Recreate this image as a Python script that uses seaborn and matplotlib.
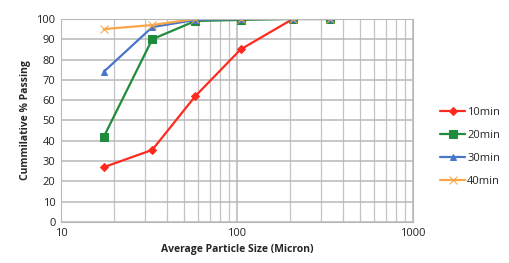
import numpy as np
import pandas as pd
import matplotlib
matplotlib.use("Agg")
import matplotlib.pyplot as plt
from matplotlib.ticker import LogLocator, FixedLocator, NullFormatter
import seaborn as sns

# particle sizes (micron) and cumulative % passing per grinding time
sizes = [17.5, 33, 58, 105, 208, 340]
p10 = [27, 35.5, 62, 85, 100, 100]
p20 = [42, 90, 99, 99.5, 100, 100]
p30 = [74, 96, 99.5, 100, 100, 100]
p40 = [95, 97, 100, 100, 100, 100]
series = ["10min", "20min", "30min", "40min"]

df = pd.DataFrame({
    "size": sizes * 4,
    "passing": p10 + p20 + p30 + p40,
    "time": np.repeat(series, len(sizes)),
})

sns.set_style("white")
plt.rcParams["font.family"] = ["Open Sans", "DejaVu Sans"]

colors = {"10min": "#ff2a1f", "20min": "#1f8c3b", "30min": "#4876c8", "40min": "#f7a548"}
markers = {"10min": "D", "20min": "s", "30min": "^", "40min": "x"}
sizes_mk = {"10min": 4, "20min": 6, "30min": 5, "40min": 6}

fig = plt.figure(figsize=(5.09, 2.63), dpi=100)
ax = fig.add_axes([0.12, 0.156, 0.691, 0.772])

for name in series:
    sub = df[df["time"] == name]
    sns.lineplot(data=sub, x="size", y="passing", ax=ax, color=colors[name],
                 marker=markers[name], markersize=sizes_mk[name], linewidth=1.6,
                 markeredgecolor=colors[name], label=name)

ax.set_xscale("log")
ax.set_xlim(10, 1000)
ax.set_ylim(0, 100)
ax.set_yticks(range(0, 101, 10))
ax.xaxis.set_major_locator(FixedLocator([10, 100, 1000]))
ax.xaxis.set_minor_locator(LogLocator(base=10, subs=np.arange(2, 10)))
ax.xaxis.set_minor_formatter(NullFormatter())
ax.set_xticklabels(["10", "100", "1000"])
ax.grid(True, which="major", color="#b8b8b8", linewidth=1.1)
ax.grid(True, which="minor", axis="x", color="#c4c4c4", linewidth=0.9)
ax.set_axisbelow(True)
for s in ax.spines.values():
    s.set_color("#b8b8b8")
ax.tick_params(axis="both", which="both", length=0, labelsize=8, colors="#222222", pad=4)

ax.set_xlabel("Average Particle Size (Micron)", fontsize=7.5, fontweight="bold", labelpad=4)
ax.set_ylabel("Cummilative % Passing", fontsize=7.5, fontweight="bold", labelpad=4)

ax.legend(loc="center left", bbox_to_anchor=(1.05, 0.37), frameon=False,
          fontsize=8, handlelength=2.2, labelspacing=1.1, handletextpad=0.2)

fig.savefig("out.png", dpi=100)
